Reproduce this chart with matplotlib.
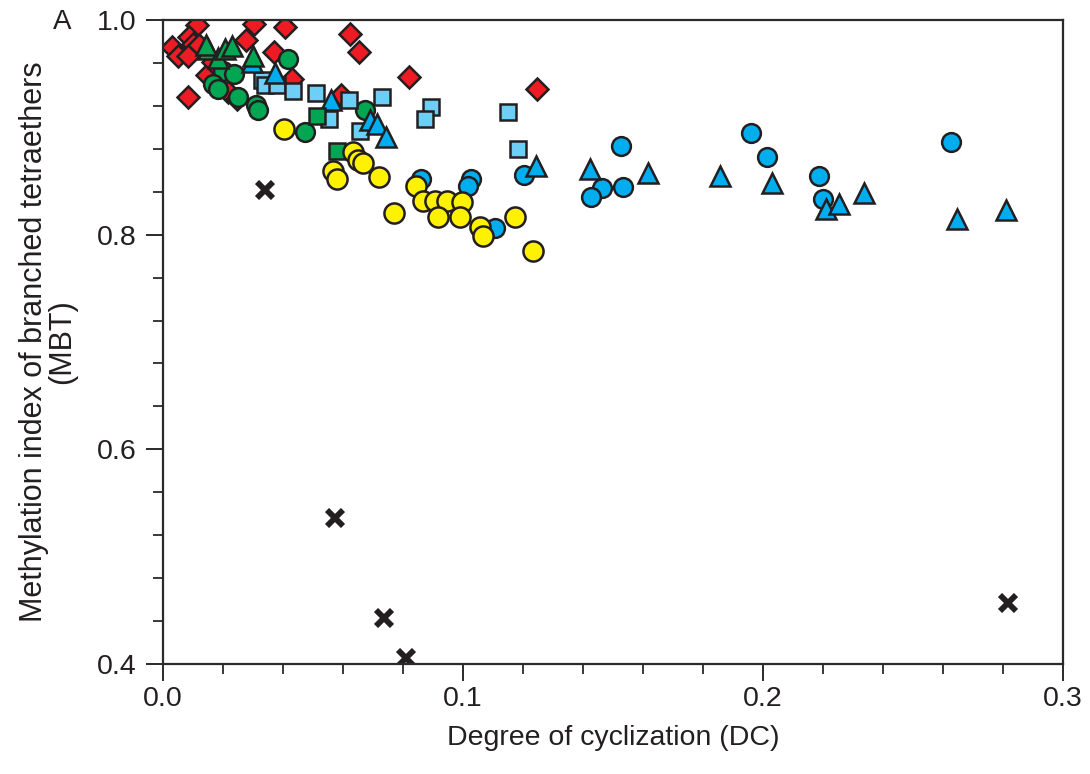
import matplotlib.pyplot as plt
from matplotlib.ticker import MultipleLocator

plt.rcParams['font.family'] = ['Liberation Sans', 'DejaVu Sans']

# red diamonds
red_dc = [0.0113, 0.0303, 0.0407, 0.0087, 0.0277, 0.003, 0.005, 0.010, 0.012, 0.0083,
          0.037, 0.0147, 0.043, 0.0083, 0.0217, 0.0247, 0.0167, 0.0623, 0.0653, 0.082,
          0.0593, 0.1247]
red_mbt = [0.995, 0.996, 0.993, 0.984, 0.981, 0.975, 0.966, 0.978, 0.977, 0.966,
           0.970, 0.949, 0.945, 0.928, 0.933, 0.926, 0.961, 0.987, 0.970, 0.947,
           0.930, 0.936]

# green circles
gc_dc = [0.0417, 0.020, 0.0237, 0.0167, 0.0183, 0.025, 0.031, 0.0317, 0.0673, 0.0473]
gc_mbt = [0.964, 0.952, 0.950, 0.940, 0.936, 0.928, 0.921, 0.916, 0.916, 0.896]

# green triangles
gt_dc = [0.015, 0.0183, 0.0207, 0.023, 0.030, 0.0143]
gt_mbt = [0.973, 0.965, 0.973, 0.976, 0.966, 0.977]

# green squares
gs_dc = [0.0513, 0.058]
gs_mbt = [0.911, 0.878]

# light blue squares
ls_dc = [0.033, 0.034, 0.038, 0.0433, 0.051, 0.062, 0.073, 0.0553, 0.0657, 0.0893,
         0.0873, 0.115, 0.1183]
ls_mbt = [0.944, 0.939, 0.939, 0.934, 0.932, 0.925, 0.928, 0.908, 0.897, 0.919,
          0.908, 0.914, 0.880]

# blue triangles
bt_dc = [0.0297, 0.0373, 0.056, 0.069, 0.0713, 0.0743, 0.1243, 0.1423, 0.1617, 0.1857,
         0.203, 0.221, 0.2253, 0.2337, 0.2647, 0.281]
bt_mbt = [0.961, 0.951, 0.925, 0.907, 0.903, 0.891, 0.864, 0.861, 0.857, 0.855,
          0.848, 0.824, 0.829, 0.839, 0.815, 0.823]

# blue circles
bc_dc = [0.196, 0.2013, 0.2187, 0.22, 0.2627, 0.1527, 0.1463, 0.1533, 0.1427, 0.1203,
         0.1027, 0.1017, 0.1107, 0.086]
bc_mbt = [0.895, 0.872, 0.855, 0.833, 0.886, 0.883, 0.843, 0.844, 0.835, 0.856,
          0.852, 0.845, 0.806, 0.852]

# yellow circles
yc_dc = [0.0633, 0.065, 0.0667, 0.0567, 0.058, 0.072, 0.0843, 0.0867, 0.0907, 0.0947,
         0.0997, 0.0917, 0.099, 0.077, 0.1057, 0.1067, 0.1173, 0.1233, 0.0403]
yc_mbt = [0.877, 0.870, 0.867, 0.859, 0.852, 0.854, 0.845, 0.831, 0.831, 0.831,
          0.830, 0.816, 0.816, 0.820, 0.807, 0.799, 0.816, 0.785, 0.898]

# outliers
x_dc = [0.034, 0.0573, 0.0737, 0.081, 0.2817]
x_mbt = [0.842, 0.536, 0.443, 0.406, 0.457]

fig = plt.figure(figsize=(10.9, 7.74), dpi=100)
ax = fig.add_axes([0.1495, 0.1421, 0.8257, 0.8321])

edge = '#231f20'
kw = dict(linestyle='none', markeredgecolor=edge, markeredgewidth=1.8)
ax.plot(red_dc, red_mbt, marker='D', markersize=11.5, markerfacecolor='#ed1c24', **kw)
ax.plot(bc_dc, bc_mbt, marker='o', markersize=13.5, markerfacecolor='#00aeef', **kw)
ax.plot(gc_dc, gc_mbt, marker='o', markersize=13.5, markerfacecolor='#00a651', **kw)
ax.plot(ls_dc, ls_mbt, marker='s', markersize=11.5, markerfacecolor='#6dcff6', **kw)
ax.plot(bt_dc, bt_mbt, marker='^', markersize=14, markerfacecolor='#00aeef', **kw)
ax.plot(gt_dc, gt_mbt, marker='^', markersize=14, markerfacecolor='#00a651', **kw)
ax.plot(gs_dc, gs_mbt, marker='s', markersize=11.5, markerfacecolor='#00a651', **kw)
ax.plot(yc_dc, yc_mbt, marker='o', markersize=14.5, markerfacecolor='#fff200', **kw)
ax.plot(x_dc, x_mbt, linestyle='none', marker='x', markersize=11,
        markeredgecolor=edge, markeredgewidth=4.2)

ax.set_xlim(0, 0.3)
ax.set_ylim(0.4, 1.0)
ax.xaxis.set_major_locator(MultipleLocator(0.1))
ax.xaxis.set_minor_locator(MultipleLocator(0.02))
ax.yaxis.set_major_locator(MultipleLocator(0.2))
ax.yaxis.set_minor_locator(MultipleLocator(0.04))
ax.xaxis.set_major_formatter(plt.FormatStrFormatter('%.1f'))
ax.yaxis.set_major_formatter(plt.FormatStrFormatter('%.1f'))

for s in ax.spines.values():
    s.set_linewidth(1.6)
    s.set_color('#2a2a2a')
ax.tick_params(which='major', direction='out', length=12, width=1.4, color='#2a2a2a',
               labelsize=20.5, labelcolor='#231f20')
ax.tick_params(axis='x', which='major', pad=4)
ax.tick_params(axis='y', which='major', pad=7)
ax.tick_params(which='minor', direction='out', length=7, width=1.3, color='#2a2a2a')

ax.set_xlabel('Degree of cyclization (DC)', fontsize=20.5, color='#231f20', labelpad=9)
ax.set_ylabel('Methylation index of branched tetraethers\n(MBT)', fontsize=22,
              color='#231f20', labelpad=14, linespacing=0.95)
fig.text(0.057, 0.971, 'A', fontsize=20, color='#231f20', ha='center', va='center')

fig.savefig('out.png', dpi=100)
